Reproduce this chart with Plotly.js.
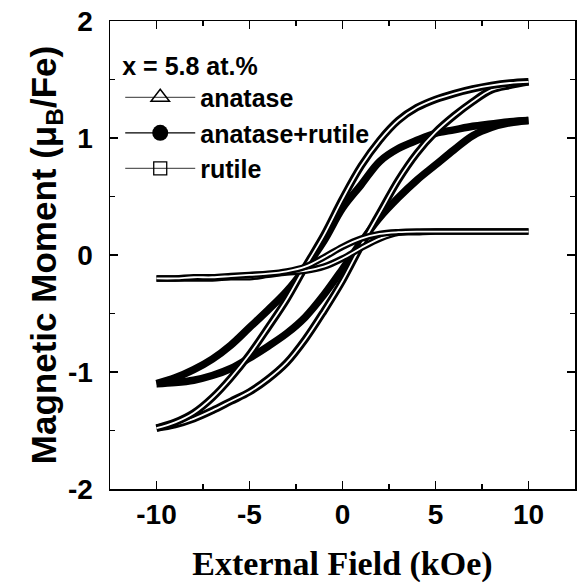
<!DOCTYPE html>
<html>
<head>
<meta charset="utf-8">
<script src="https://cdn.plot.ly/plotly-3.0.1.min.js"></script>
<style>html,body{margin:0;padding:0;background:#fff;}#chart{width:579px;height:583px;}</style>
</head>
<body>
<div id="chart"></div>
<script>
// External field (kOe): ascending branch (-10 -> 10) and descending branch (10 -> -10)
const fieldAsc  = [-10,-9,-8,-7,-6,-5,-4,-3,-2,-1,0,1,2,3,4,5,6,7,8,9,10];
const fieldDesc = [10,9,8,7,6,5,4,3,2,1,0,-1,-2,-3,-4,-5,-6,-7,-8,-9,-10];

// Magnetic moment (muB/Fe)
const anataseAsc  = [-1.48,-1.45,-1.40,-1.33,-1.25,-1.17,-1.06,-0.92,-0.72,-0.48,-0.22,0.08,0.36,0.64,0.87,1.05,1.19,1.31,1.41,1.45,1.48];
const anataseDesc = [1.48,1.47,1.45,1.42,1.38,1.33,1.26,1.15,0.98,0.76,0.48,0.17,-0.10,-0.38,-0.62,-0.85,-1.05,-1.22,-1.35,-1.43,-1.48];

const mixedAsc  = [-1.10,-1.09,-1.07,-1.03,-0.97,-0.88,-0.78,-0.67,-0.53,-0.34,-0.12,0.11,0.32,0.49,0.64,0.77,0.90,1.02,1.09,1.13,1.15];
const mixedDesc = [1.15,1.14,1.12,1.10,1.07,1.04,0.98,0.91,0.80,0.60,0.40,0.12,-0.11,-0.31,-0.47,-0.62,-0.77,-0.89,-0.98,-1.05,-1.10];

const rutileAsc  = [-0.20,-0.20,-0.20,-0.20,-0.19,-0.19,-0.17,-0.15,-0.135,-0.10,-0.03,0.06,0.14,0.19,0.195,0.20,0.20,0.20,0.20,0.20,0.20];
const rutileDesc = [0.20,0.20,0.20,0.20,0.20,0.20,0.20,0.195,0.18,0.14,0.07,-0.02,-0.10,-0.14,-0.16,-0.17,-0.18,-0.19,-0.19,-0.20,-0.20];

const seriesNames = ['anatase','anatase+rutile','rutile'];
const legendTitle = 'x = 5.8 at.%';

const xTickVals = [-10,-5,0,5,10];
const xTickText = ['-10','-5','0','5','10'];
const yTickVals = [-2,-1,0,1,2];
const yTickText = ['-2','-1','0','1','2'];

function band(x, y, w, color) {
  return {x: x, y: y, type: 'scatter', mode: 'lines', showlegend: false, hoverinfo: 'skip',
          line: {color: color, width: w, shape: 'spline', smoothing: 1}};
}

const traces = [];
// anatase+rutile : solid band (filled circles)
traces.push(band(fieldAsc, mixedAsc, 7.5, '#000'));
traces.push(band(fieldDesc, mixedDesc, 7.5, '#000'));
// anatase : open triangles -> outlined band
traces.push(band(fieldAsc, anataseAsc, 7.5, '#000'));
traces.push(band(fieldAsc, anataseAsc, 1.8, '#fff'));
traces.push(band(fieldDesc, anataseDesc, 7.5, '#000'));
traces.push(band(fieldDesc, anataseDesc, 1.8, '#fff'));
// rutile : open squares -> outlined band
traces.push(band(fieldAsc, rutileAsc, 6.5, '#000'));
traces.push(band(fieldAsc, rutileAsc, 1.8, '#fff'));
traces.push(band(fieldDesc, rutileDesc, 6.5, '#000'));
traces.push(band(fieldDesc, rutileDesc, 1.8, '#fff'));

// legend entries
traces.push({x:[null], y:[null], type:'scatter', mode:'lines+markers', name: seriesNames[0],
  line:{color:'#333', width:1}, marker:{symbol:'triangle-up-open', size:16, color:'#000', line:{width:1.5, color:'#000'}}});
traces.push({x:[null], y:[null], type:'scatter', mode:'lines+markers', name: seriesNames[1],
  line:{color:'#000', width:1.2}, marker:{symbol:'circle', size:16, color:'#000'}});
traces.push({x:[null], y:[null], type:'scatter', mode:'lines+markers', name: seriesNames[2],
  line:{color:'#333', width:1}, marker:{symbol:'square-open', size:13, color:'#000', line:{width:1.3, color:'#000'}}});

const tickFont = {family: 'Liberation Sans, Arial, sans-serif', size: 28, color: '#000', weight: 'bold'};
const legFont = {family: 'Liberation Sans, Arial, sans-serif', size: 25, color: '#000', weight: 'bold'};

const layout = {
  width: 579, height: 583,
  margin: {l: 110, r: 4, t: 21, b: 94},
  paper_bgcolor: '#fff', plot_bgcolor: '#fff',
  showlegend: true,
  legend: {
    x: 0.022, y: 0.955, xanchor: 'left', yanchor: 'top',
    bgcolor: 'rgba(0,0,0,0)', borderwidth: 0,
    itemwidth: 70, tracegroupgap: 0,
    font: legFont,
    title: {text: legendTitle, font: legFont}
  },
  xaxis: {
    range: [-12.5, 12.5], showgrid: false, zeroline: false,
    showline: true, linecolor: '#000', linewidth: 1.5, mirror: 'ticks',
    ticks: 'inside', ticklen: 8, tickwidth: 1.5, tickcolor: '#000',
    tickmode: 'array', tickvals: xTickVals, ticktext: xTickText,
    tickfont: tickFont, ticklabelstandoff: 0,
    minor: {dtick: 2.5, ticks: 'inside', ticklen: 5, tickwidth: 1.2, tickcolor: '#000', showgrid: false},
    title: {text: 'External Field (kOe)', standoff: 24,
      font: {family: 'Liberation Serif, Times New Roman, serif', size: 34, color: '#000', weight: 'bold'}}
  },
  yaxis: {
    range: [-2, 2], showgrid: false, zeroline: false,
    showline: true, linecolor: '#000', linewidth: 1.5, mirror: 'ticks',
    ticks: 'inside', ticklen: 8, tickwidth: 1.5, tickcolor: '#000',
    tickmode: 'array', tickvals: yTickVals, ticktext: yTickText,
    tickfont: tickFont, ticklabelstandoff: 10,
    minor: {dtick: 0.5, ticks: 'inside', ticklen: 5, tickwidth: 1.2, tickcolor: '#000', showgrid: false},
    title: {text: 'Magnetic Moment (μ<sub>B</sub>/Fe)', standoff: 0,
      font: {family: 'Liberation Sans, Arial, sans-serif', size: 35, color: '#000', weight: 'bold'}}
  }
};

Plotly.newPlot('chart', traces, layout, {staticPlot: true, displayModeBar: false});
</script>
</body>
</html>
